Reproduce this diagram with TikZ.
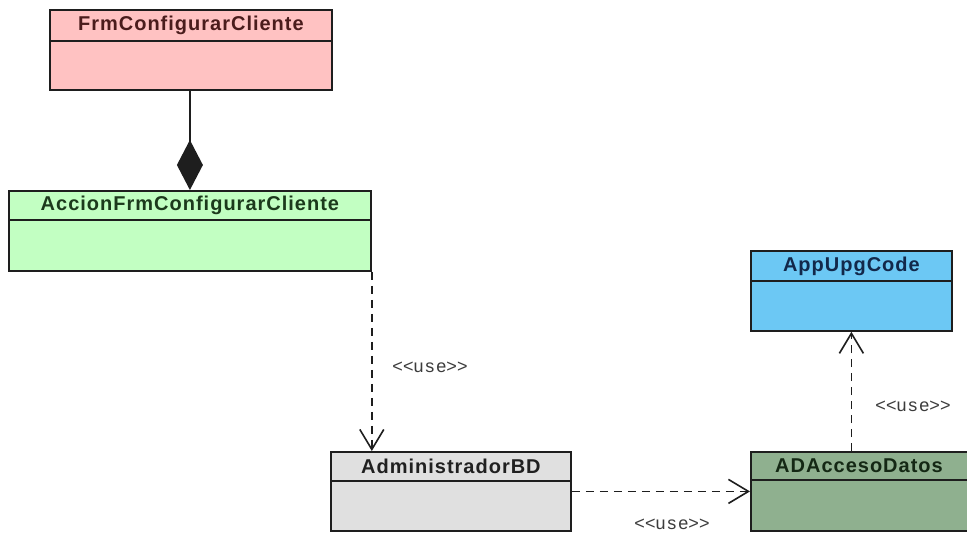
\documentclass[tikz,border=0pt]{standalone}
\usepackage{fontspec}
\setmainfont{Liberation Sans}
\newfontfamily\clsfont[LetterSpace=5]{Liberation Sans}
\newfontfamily\lblfont[Ligatures=ResetAll,LetterSpace=11]{Liberation Sans}
\usetikzlibrary{arrows.meta}

\definecolor{frmfill}{HTML}{FFC2C2}
\definecolor{frmtext}{HTML}{4A1C1C}
\definecolor{accfill}{HTML}{C2FFC2}
\definecolor{acctext}{HTML}{1C3A1C}
\definecolor{appfill}{HTML}{6CC8F4}
\definecolor{apptext}{HTML}{12284A}
\definecolor{admfill}{HTML}{E0E0E0}
\definecolor{admtext}{HTML}{202020}
\definecolor{adafill}{HTML}{8FB08F}
\definecolor{adatext}{HTML}{142814}
\definecolor{edge}{HTML}{1E1E1E}
\definecolor{labelgray}{HTML}{3C3C3C}

\newcommand\usetag{\mbox{<}\mbox{<}use\mbox{>}\mbox{>}}

\tikzset{
  cls/.style={draw=edge, line width=1.8pt, rectangle, inner sep=0pt, anchor=north west},
  clsline/.style={draw=edge, line width=1.8pt},
  clsname/.style={font=\clsfont\fontsize{20}{20}\selectfont\bfseries, inner sep=0pt},
  dep/.style={draw=edge, line width=1.8pt, dash pattern=on 8pt off 6pt,
    -{Straight Barb[length=20pt,width=24pt,line width=1.6pt]}},
  comp/.style={draw=edge, line width=1.8pt,
    -{Diamond[length=50pt,width=26pt]}},
  uselabel/.style={font=\lblfont\fontsize{18}{18}\selectfont, text=labelgray, inner sep=0pt}
}

\begin{document}
\begin{tikzpicture}[x=1pt,y=-1pt]
  \useasboundingbox[fill=white] (0,0) rectangle (967,533);

  % FrmConfigurarCliente
  \node[cls, fill=frmfill, minimum width=282pt, minimum height=80pt] (frm) at (49,9) {};
  \draw[clsline] (frm.west |- 0,41) -- (frm.east |- 0,41);
  \node[clsname, text=frmtext] (frmname) at (frm.north |- 0,25) {FrmConfigurarCliente};

  % AccionFrmConfigurarCliente
  \node[cls, fill=accfill, minimum width=362pt, minimum height=80pt] (acc) at (8,190) {};
  \draw[clsline] (acc.west |- 0,220) -- (acc.east |- 0,220);
  \node[clsname, text=acctext] (accname) at (acc.north |- 0,205) {AccionFrmConfigurarCliente};

  % AppUpgCode
  \node[cls, fill=appfill, minimum width=201pt, minimum height=80pt] (app) at (750,250) {};
  \draw[clsline] (app.west |- 0,281) -- (app.east |- 0,281);
  \node[clsname, text=apptext] (appname) at (app.north |- 0,266) {AppUpgCode};

  % AdministradorBD
  \node[cls, fill=admfill, minimum width=240pt, minimum height=79pt] (adm) at (330,451) {};
  \draw[clsline] (adm.west |- 0,481) -- (adm.east |- 0,481);
  \node[clsname, text=admtext] (admname) at (adm.north |- 0,466) {AdministradorBD};

  % ADAccesoDatos (runs past the right edge)
  \node[cls, fill=adafill, minimum width=230pt, minimum height=79pt] (ada) at (750,451) {};
  \draw[clsline] (ada.west |- 0,480) -- (ada.east |- 0,480);
  \node[clsname, text=adatext] (adaname) at (859,466) {ADAccesoDatos};

  % composition
  \draw[comp] (acc.north |- frm.south) -- (acc.north);

  % dependencies
  \draw[dep] (acc.south east) -- (acc.south east |- adm.north);
  \draw[dep] (adm.east) -- (adm.east -| ada.west);
  \draw[dep] (app.south |- ada.north) -- (app.south);

  % dependency labels
  \node[uselabel] (use1) at (430,367) {\usetag};
  \node[uselabel] (use2) at (672,524) {\usetag};
  \node[uselabel] (use3) at (913,406) {\usetag};
\end{tikzpicture}
\end{document}
